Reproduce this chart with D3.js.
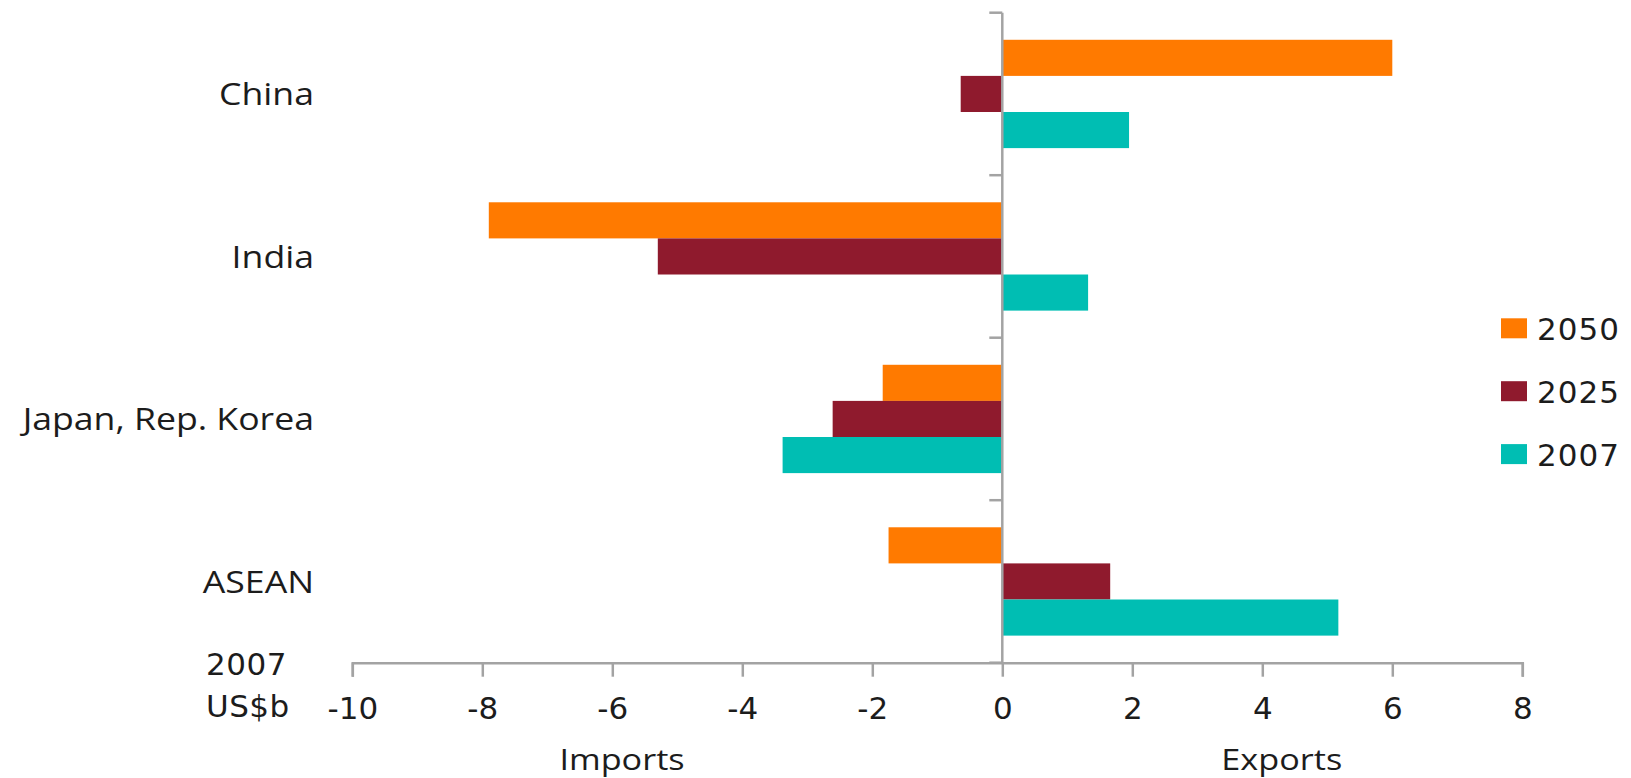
<!DOCTYPE html>
<html>
<head>
<meta charset="utf-8">
<script src="https://cdn.jsdelivr.net/npm/d3@7"></script>
<style>
  html, body { margin: 0; padding: 0; background: #ffffff; }
  svg { display: block; }
</style>
</head>
<body>
<svg id="chart" width="1631" height="778"></svg>
<script>
// Net trade balance by region, 2007 US$ billions (negative = imports, positive = exports)
const categories = ["China", "India", "Japan, Rep. Korea", "ASEAN"];
const seriesNames = ["2050", "2025", "2007"];
const values2050 = [6.0, -7.9, -1.84, -1.75];
const values2025 = [-0.64, -5.3, -2.61, 1.66];
const values2007 = [1.95, 1.32, -3.38, 5.17];
const xTicks = [-10, -8, -6, -4, -2, 0, 2, 4, 6, 8];
const seriesColors = ["#FF7A00", "#8F1A2D", "#00BEB3"];
const unitLines = ["2007", "US$b"];
const sideTitles = ["Imports", "Exports"];

const seriesValues = [values2050, values2025, values2007];

const svg = d3.select("#chart");
const axisColor = "#a3a3a3";
const textColor = "#1c1c1c";
const numFont = "'DejaVu Sans', Verdana, sans-serif";
const labelFont = "'Open Sans', 'Noto Sans', sans-serif";

const plotTop = 12.7, plotBottom = 662.7;
const x = d3.scaleLinear().domain([-10, 8]).range([352.3, 1522.3]);
const y0 = d3.scaleBand().domain(categories).range([plotTop, plotBottom]);
const y1 = d3.scaleBand().domain(seriesNames).range([0, y0.bandwidth()])
  .paddingInner(0).paddingOuter(0.75);

// Bars
const rows = categories.map((c, i) => ({
  category: c,
  bars: seriesNames.map((s, j) => ({ series: s, value: seriesValues[j][i], color: seriesColors[j] }))
}));

const groups = svg.append("g").selectAll("g")
  .data(rows).join("g")
  .attr("transform", d => `translate(0,${y0(d.category)})`);

groups.selectAll("rect")
  .data(d => d.bars).join("rect")
  .attr("x", d => x(Math.min(0, d.value)))
  .attr("width", d => Math.abs(x(d.value) - x(0)))
  .attr("y", d => y1(d.series))
  .attr("height", y1.bandwidth())
  .attr("fill", d => d.color);

// Horizontal value axis (plain hyphen for negatives)
const xAxis = svg.append("g")
  .attr("transform", `translate(0,${plotBottom})`)
  .call(d3.axisBottom(x).tickValues(xTicks).tickSize(14).tickSizeOuter(14).tickFormat(d => String(d)));
xAxis.select(".domain").attr("stroke", axisColor).attr("stroke-width", 2.5);
xAxis.selectAll(".tick line").attr("stroke", axisColor).attr("stroke-width", 2.5);
xAxis.selectAll(".tick text")
  .attr("y", 56.3).attr("dy", null)
  .attr("fill", textColor)
  .style("font-family", numFont)
  .style("font-size", "31px");

// Vertical category axis along zero, with ticks between groups
const yAxis = svg.append("g");
yAxis.append("line")
  .attr("x1", x(0)).attr("x2", x(0))
  .attr("y1", plotTop).attr("y2", plotBottom)
  .attr("stroke", axisColor).attr("stroke-width", 2.5);
const boundaries = categories.map(c => y0(c)).concat([plotBottom]);
yAxis.selectAll("line.tick")
  .data(boundaries).join("line")
  .attr("class", "tick")
  .attr("x1", x(0) - 13).attr("x2", x(0))
  .attr("y1", d => d).attr("y2", d => d)
  .attr("stroke", axisColor).attr("stroke-width", 2.5);

// Category labels
svg.append("g").selectAll("text")
  .data(categories).join("text")
  .attr("transform", d => `translate(314,${y0(d) + y0.bandwidth() / 2 + 11.5}) scale(1.15,1)`)
  .attr("text-anchor", "end")
  .attr("fill", textColor)
  .style("font-family", labelFont)
  .style("font-size", "31px")
  .text(d => d);

// Unit note at the lower left
svg.append("g").selectAll("text")
  .data(unitLines).join("text")
  .attr("x", 206)
  .attr("y", (d, i) => 675 + i * 41.7)
  .attr("fill", textColor)
  .style("font-family", numFont)
  .style("font-size", "31px")
  .style("letter-spacing", "0.5px")
  .text(d => d);

// Imports / Exports titles under the axis
const titleCenters = [x(-5.85), x(4.3)];
svg.append("g").selectAll("text")
  .data(sideTitles).join("text")
  .attr("transform", (d, i) => `translate(${titleCenters[i]},770) scale(1.18,1)`)
  .attr("text-anchor", "middle")
  .attr("fill", textColor)
  .style("font-family", labelFont)
  .style("font-size", "29px")
  .text(d => d);

// Legend
const legend = svg.append("g").attr("transform", "translate(1501,318.3)");
const items = legend.selectAll("g")
  .data(seriesNames).join("g")
  .attr("transform", (d, i) => `translate(0,${i * 62.9})`);
items.append("rect")
  .attr("width", 26).attr("height", 20)
  .attr("fill", (d, i) => seriesColors[i]);
items.append("text")
  .attr("x", 36).attr("y", 21.7)
  .attr("fill", textColor)
  .style("font-family", numFont)
  .style("font-size", "31px")
  .style("letter-spacing", "1px")
  .text(d => d);
</script>
</body>
</html>
